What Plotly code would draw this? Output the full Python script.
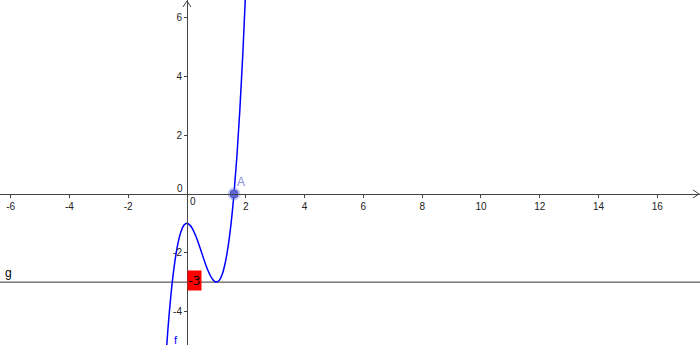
import plotly.graph_objects as go

# ---- data ----
f_x = [-0.72, -0.65, -0.6, -0.55, -0.5, -0.4, -0.3, -0.2, -0.1, 0.0, 0.1, 0.2, 0.3, 0.4,
       0.5, 0.6, 0.7, 0.8, 0.9, 1.0, 1.1, 1.2, 1.3, 1.4, 1.5, 1.6, 1.7, 1.8, 1.9, 2.0]
f_y = [-5.60, -4.63, -4.02, -3.48, -3.00, -2.22, -1.65, -1.27, -1.06, -1.00, -1.06, -1.21,
       -1.43, -1.70, -2.00, -2.30, -2.57, -2.79, -2.94, -3.00, -2.94, -2.73, -2.35, -1.78,
       -1.00, 0.02, 1.31, 2.89, 4.78, 7.00]
g_value = -3
g_label_text = "-3"
point_A = (1.6, 0.0)
x_ticks = [-6, -4, -2, 2, 4, 6, 8, 10, 12, 14, 16]
y_ticks = [-4, -2, 2, 4, 6]
x_range = [-6.36, 17.45]
y_range = [-5.14, 6.60]

AXIS_COLOR = "#444444"
FONT = "Liberation Sans"

fig = go.Figure()

fig.add_hline(y=g_value, line=dict(color="#333333", width=1), layer="below")

fig.add_trace(go.Scatter(x=f_x, y=f_y, mode="lines",
                         line=dict(color="#0000ff", width=1.5, shape="spline"),
                         hoverinfo="skip", showlegend=False))

# point A with halo
fig.add_trace(go.Scatter(x=[point_A[0]], y=[point_A[1]], mode="markers",
                         marker=dict(size=13, color="rgba(100,110,230,0.35)", line=dict(width=0)),
                         hoverinfo="skip", showlegend=False))
fig.add_trace(go.Scatter(x=[point_A[0]], y=[point_A[1]], mode="markers",
                         marker=dict(size=8, color="#5f66d8", line=dict(width=1, color="#4a52c8")),
                         hoverinfo="skip", showlegend=False))

xpos = (0 - y_range[0]) / (y_range[1] - y_range[0])
ypos = (0 - x_range[0]) / (x_range[1] - x_range[0])

fig.update_layout(
    width=700, height=345,
    margin=dict(l=0, r=0, t=0, b=0),
    paper_bgcolor="white", plot_bgcolor="white",
    showlegend=False,
    font=dict(family=FONT, size=10, color="#222222"),
    xaxis=dict(range=x_range, showgrid=False, zeroline=False,
               showline=True, linecolor=AXIS_COLOR, linewidth=1,
               anchor="free", position=xpos,
               tickmode="array", tickvals=x_ticks, ticktext=[str(v) for v in x_ticks],
               ticks="outside", ticklen=3, tickcolor=AXIS_COLOR,
               tickfont=dict(family=FONT, size=10, color="#222222")),
    yaxis=dict(range=y_range, showgrid=False, zeroline=False,
               showline=True, linecolor=AXIS_COLOR, linewidth=1,
               anchor="free", position=ypos,
               tickmode="array", tickvals=y_ticks, ticktext=[str(v) for v in y_ticks],
               ticks="outside", ticklen=3, tickcolor=AXIS_COLOR,
               tickfont=dict(family=FONT, size=10, color="#222222")),
)

# axis arrowheads
arrow_line = dict(color=AXIS_COLOR, width=1)
for dy in (4, -4):
    fig.add_shape(type="line", xref="x", yref="y", xsizemode="pixel", ysizemode="pixel",
                  xanchor=x_range[1], yanchor=0, x0=-7, y0=dy, x1=-1, y1=0, line=arrow_line)
for dx in (4, -4):
    fig.add_shape(type="line", xref="x", yref="y", xsizemode="pixel", ysizemode="pixel",
                  xanchor=0, yanchor=y_range[1], x0=dx, y0=-7, x1=0, y1=-1, line=arrow_line)

# origin labels
fig.add_annotation(x=0, y=0, text="0", showarrow=False, xshift=6, yshift=-8,
                   font=dict(family=FONT, size=10, color="#222222"))
fig.add_annotation(x=0, y=0, text="0", showarrow=False, xshift=-7, yshift=5,
                   font=dict(family=FONT, size=10, color="#222222"))

# labels
fig.add_annotation(x=point_A[0], y=point_A[1], text="A", showarrow=False,
                   xshift=7, yshift=12, font=dict(family=FONT, size=12, color="#8a8ae0"))
fig.add_annotation(x=0, y=g_value, text=g_label_text, showarrow=False, xanchor="left",
                   yanchor="middle", yshift=2, bgcolor="#ff0000", width=13, height=19,
                   borderpad=0, align="center",
                   font=dict(family="DejaVu Sans", size=12, color="#000000"))
fig.add_annotation(x=x_range[0], y=g_value, text="g", showarrow=False, xanchor="left",
                   yanchor="bottom", xshift=3, yshift=0,
                   font=dict(family=FONT, size=12, color="#000000"))
fig.add_annotation(x=f_x[1], y=f_y[1], text="f", showarrow=False, xanchor="left",
                   yanchor="middle", xshift=4, yshift=-10,
                   font=dict(family=FONT, size=11, color="#0000ff"))

fig.write_html("out.html")
